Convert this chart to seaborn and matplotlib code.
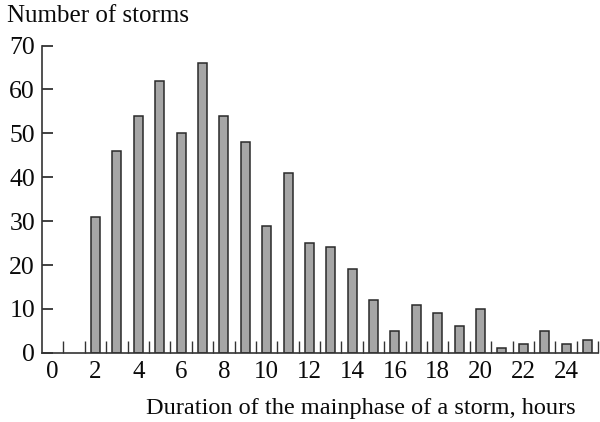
import matplotlib
matplotlib.use("Agg")
import matplotlib.pyplot as plt
import seaborn as sns
import pandas as pd
import numpy as np

# Duration of the main phase (hours) and the number of storms of each duration
hours = [2, 3, 4, 5, 6, 7, 8, 9, 10, 11, 12, 13, 14, 15, 16, 17, 18, 19, 20, 21, 22, 23, 24, 25]
storms = [31, 46, 54, 62, 50, 66, 54, 48, 29, 41, 25, 24, 19, 12, 5, 11, 9, 6, 10, 1, 2, 5, 2, 3]
x_ticks = [0, 2, 4, 6, 8, 10, 12, 14, 16, 18, 20, 22, 24]
y_ticks = [0, 10, 20, 30, 40, 50, 60, 70]

df = pd.DataFrame({"hours": hours, "storms": storms})

sns.set_theme(style="ticks")
plt.rcParams["font.family"] = ["Liberation Serif", "DejaVu Serif"]

fig = plt.figure(figsize=(6.0, 4.22), dpi=100)
ax = fig.add_axes([0.07, 0.164, 0.927, 0.728])

sns.barplot(data=df, x="hours", y="storms", native_scale=True, width=0.42,
            color="#a6a6a6", saturation=1, edgecolor="#2a2a2a", linewidth=1.1, ax=ax)

ax.set_xlim(-0.5, 25.5)
ax.set_ylim(0, 70)

ax.set_xticks(x_ticks)
ax.set_xticklabels([str(t) for t in x_ticks])
ax.set_xticks(np.arange(0.5, 26, 1.0), minor=True)
ax.tick_params(axis="x", which="major", length=0, pad=6, labelsize=18, colors="#0a0a0a")
ax.tick_params(axis="x", which="minor", direction="in", length=8.5, width=1.0, color="#333333")

ax.set_yticks(y_ticks)
ax.set_yticklabels([str(t) for t in y_ticks])
ax.tick_params(axis="y", direction="in", length=8, width=1.3, pad=5, labelsize=18.5,
               color="#333333", labelcolor="#0a0a0a")

for side in ("top", "right"):
    ax.spines[side].set_visible(False)
for side in ("left", "bottom"):
    ax.spines[side].set_linewidth(1.2)
    ax.spines[side].set_color("#333333")

ax.set_xlabel("")
ax.set_ylabel("")
fig.text(0.012, 0.962, "Number of storms", fontsize=18, ha="left", va="center", color="#0a0a0a")
fig.text(0.602, 0.033, "Duration of the mainphase of a storm, hours", fontsize=17.5,
         ha="center", va="center", color="#0a0a0a")

fig.savefig("out.png", dpi=100)
